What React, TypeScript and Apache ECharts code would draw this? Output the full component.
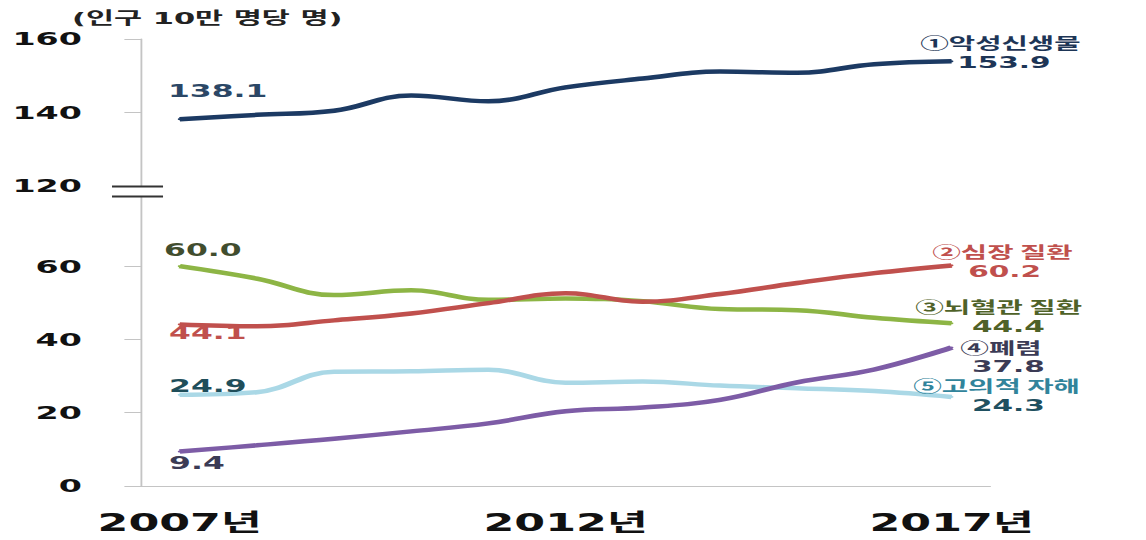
import React, { useEffect, useRef } from "react";
import * as echarts from "echarts";

// ---- data ----
const YEARS = ["2007", "2008", "2009", "2010", "2011", "2012", "2013", "2014", "2015", "2016", "2017"];
const YEAR_LABELS = YEARS.map((y) => y + "년");
const CANCER = [138.1, 139.3, 140.4, 144.6, 143.0, 146.8, 149.2, 151.1, 150.8, 153.1, 153.9];
const HEART = [44.1, 43.6, 45.2, 47.1, 49.9, 52.6, 50.3, 52.4, 55.4, 58.1, 60.2];
const STROKE = [60.0, 56.6, 52.1, 53.4, 50.8, 51.2, 50.4, 48.3, 48.0, 45.9, 44.4];
const PNEUMONIA = [9.4, 11.1, 12.9, 14.9, 17.1, 20.4, 21.4, 23.5, 28.3, 31.8, 37.8];
const SUICIDE = [24.9, 25.6, 31.2, 31.3, 31.7, 28.2, 28.5, 27.4, 26.7, 25.9, 24.3];
const SERIES_NAMES = ["①악성신생물", "②심장 질환", "③뇌혈관 질환", "④폐렴", "⑤고의적 자해"];
const Y_TICK_LABELS = [0, 20, 40, 60, 120, 140, 160];
const UNIT_LABEL = "(인구 10만 명당 명)";

// axis break: values from 120 upward are shifted down by this amount
const BREAK_SHIFT = 38;
const toAxis = (v: number) => (v >= 120 ? v - BREAK_SHIFT : v);
const fromAxis = (v: number) => (v > 60 ? v + BREAK_SHIFT : v);

const W = 620;
const S = 1146 / W;
const GRID_LEFT = 76.3;
const FONT = "'DejaVu Sans', 'Noto Sans CJK KR', sans-serif";
const CJK_FONT = "'Noto Sans CJK KR', 'DejaVu Sans', sans-serif";

type Cfg = {
  values: number[];
  name: string;
  color: string;
  startColor: string;
  endColor: string;
  nameColor: string;
  startOffset: [number, number];
  nameOffset: [number, number];
  endDist: number;
  endDy: number;
  z: number;
};

const CFGS: Cfg[] = [
  { values: CANCER, name: SERIES_NAMES[0], color: "#1c3a63", startColor: "#2b4766", endColor: "#1d3556", nameColor: "#1d3556", startOffset: [-6.3, -28], nameOffset: [-17, -19.5], endDist: 3, endDy: 1, z: 5 },
  { values: HEART, name: SERIES_NAMES[1], color: "#c0504d", startColor: "#c0504d", endColor: "#c0504d", nameColor: "#c0504d", startOffset: [-5.7, 9], nameOffset: [-10.5, -14.5], endDist: 9, endDy: 6, z: 4 },
  { values: STROKE, name: SERIES_NAMES[2], color: "#8db545", startColor: "#414d2e", endColor: "#4f6228", nameColor: "#4f6228", startOffset: [-8.4, -16], nameOffset: [-19.7, -17], endDist: 11, endDy: 3, z: 3 },
  { values: PNEUMONIA, name: SERIES_NAMES[3], color: "#7d5ca6", startColor: "#3b3b55", endColor: "#3b3b55", nameColor: "#3b3b55", startOffset: [-5.7, 11.5], nameOffset: [4.7, -0.5], endDist: 11, endDy: 19, z: 2 },
  { values: SUICIDE, name: SERIES_NAMES[4], color: "#aad8e6", startColor: "#1f4e5a", endColor: "#1f5060", nameColor: "#31849b", startOffset: [-5.7, -8], nameOffset: [-20.8, -11.5], endDist: 11, endDy: 8.5, z: 1 },
];

function buildSeries() {
  return CFGS.map((c) => {
    const last = c.values.length - 1;
    const data = c.values.map((v, i) => {
      const item: any = { value: toAxis(v) };
      if (i === 0) {
        item.label = {
          show: true,
          position: "inside",
          align: "left",
          verticalAlign: "middle",
          offset: c.startOffset,
          formatter: () => v.toFixed(1),
          color: c.startColor,
          fontSize: 17,
          fontWeight: "bold",
          fontFamily: FONT,
        };
      } else if (i === last) {
        item.label = {
          show: true,
          position: "inside",
          align: "left",
          verticalAlign: "middle",
          offset: c.nameOffset,
          formatter: () => c.name,
          color: c.nameColor,
          fontSize: 15.5,
          lineHeight: 15,
          fontWeight: "bold",
          fontFamily: CJK_FONT,
        };
      }
      return item;
    });
    return {
      type: "line",
      name: c.name,
      data,
      smooth: 0.4,
      z: c.z,
      showSymbol: true,
      symbol: "circle",
      symbolSize: 2,
      itemStyle: { color: c.color },
      lineStyle: { color: c.color, width: 4.5 },
      label: { show: false },
      endLabel: {
        show: true,
        distance: c.endDist,
        offset: [0, c.endDy],
        formatter: () => c.values[last].toFixed(1),
        color: c.endColor,
        fontSize: 16,
        lineHeight: 15,
        fontWeight: "bold",
        fontFamily: FONT,
      },
      emphasis: { disabled: true },
    };
  });
}

export default function App() {
  const ref = useRef<HTMLDivElement>(null);
  useEffect(() => {
    document.body.style.margin = "0";
    if (!ref.current) return;
    const chart = echarts.init(ref.current, undefined, { renderer: "svg" });
    const yVals = Y_TICK_LABELS.map(toAxis);
    chart.setOption({
      animation: false,
      title: {
        text: UNIT_LABEL,
        left: 39,
        top: 10,
        padding: 0,
        textStyle: { fontSize: 16.5, fontWeight: "bold", color: "#222", fontFamily: FONT },
      },
      grid: { left: GRID_LEFT, right: W - 535.7, top: 39, bottom: 54 },
      xAxis: {
        type: "category",
        data: YEAR_LABELS,
        boundaryGap: true,
        axisLine: { lineStyle: { color: "#c4c4c4", width: 1 } },
        axisTick: { interval: 4, length: 7, lineStyle: { color: "#b0b0b0" } },
        axisLabel: {
          interval: 4,
          margin: 25,
          fontSize: 24,
          fontWeight: "bold",
          color: "#111",
          fontFamily: FONT,
        },
        splitLine: { show: false },
      },
      yAxis: {
        type: "value",
        min: 0,
        max: toAxis(160),
        axisLine: { show: true, lineStyle: { color: "#c4c4c4", width: 1 } },
        axisTick: {
          show: true,
          length: 9,
          customValues: [0, 20, 40, 60, 140, 160].map(toAxis),
          lineStyle: { color: "#c4c4c4" },
        },
        axisLabel: {
          customValues: yVals,
          formatter: (v: number) => String(fromAxis(v)),
          margin: 32,
          fontSize: 18,
          fontWeight: "bold",
          color: "#111",
          fontFamily: FONT,
        },
        splitLine: { show: false },
      },
      series: buildSeries(),
    });
    const yb = chart.convertToPixel({ yAxisIndex: 0 }, toAxis(120)) as number;
    chart.setOption({
      graphic: [
        {
          type: "rect",
          shape: { x: GRID_LEFT - 2, y: yb + 1, width: 4, height: 10 },
          style: { fill: "#fff" },
          z: 100,
        },
        {
          type: "line",
          shape: { x1: GRID_LEFT - 15.7, y1: yb + 1, x2: GRID_LEFT + 11.9, y2: yb + 1 },
          style: { stroke: "#333", lineWidth: 2 },
          z: 101,
        },
        {
          type: "line",
          shape: { x1: GRID_LEFT - 15.7, y1: yb + 11, x2: GRID_LEFT + 11.9, y2: yb + 11 },
          style: { stroke: "#333", lineWidth: 2 },
          z: 101,
        },
      ],
    });
    return () => chart.dispose();
  }, []);
  return (
    <div style={{ width: 1146, height: 540, overflow: "hidden", position: "relative", background: "#fff" }}>
      <div
        ref={ref}
        style={{ width: W, height: 540, transform: `scaleX(${S})`, transformOrigin: "0 0" }}
      />
    </div>
  );
}
